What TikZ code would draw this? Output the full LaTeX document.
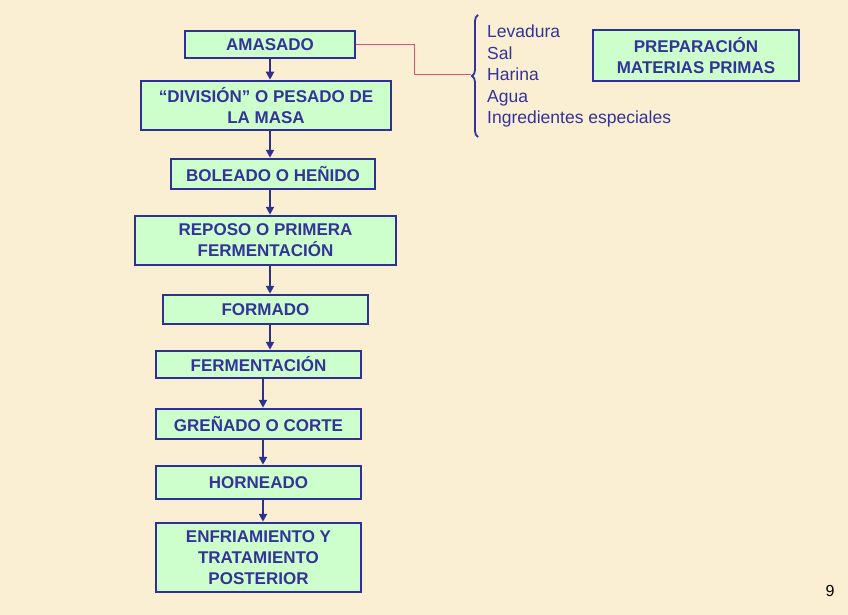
\documentclass[tikz,border=0pt]{standalone}
\usepackage{fontspec}
\setmainfont{Liberation Sans}
\usetikzlibrary{arrows.meta,decorations.pathreplacing}

\definecolor{bgcream}{HTML}{FAEFD3}
\definecolor{boxgreen}{HTML}{CCFFCC}
\definecolor{boxblue}{HTML}{2E3192}
\definecolor{txtblue}{HTML}{333399}
\definecolor{linkpink}{HTML}{E0507A}

\tikzset{
    stepbox/.style={draw=boxblue, line width=2.5pt, fill=boxgreen, text=txtblue,
        font=\fontsize{17}{21}\selectfont\bfseries, align=center, inner sep=0pt},
    flow/.style={draw=boxblue, line width=2.5pt, -{Triangle[length=8pt,width=8pt]}},
    link/.style={draw=linkpink, line width=1pt},
    listtext/.style={text=txtblue, font=\fontsize{17.5}{21.5}\selectfont, align=left, inner sep=0pt},
}

\begin{document}
\begin{tikzpicture}[x=1pt,y=-1pt]

    % background
    \fill[bgcream] (0,0) rectangle (848,615);
    \useasboundingbox (0,0) rectangle (848,615);

    % columns of the arrows
    \coordinate (colA) at (270,0);
    \coordinate (colB) at (263,0);

    % steps
    \node[stepbox, minimum width=170, minimum height=27] (amasado) at (270,44.5) {AMASADO};
    \node[stepbox, minimum width=250, minimum height=49] (division) at (266,105.5) {``DIVISIÓN'' O PESADO DE\\LA MASA};
    \node[stepbox, minimum width=204, minimum height=30] (boleado) at (273,174) {BOLEADO O HEÑIDO};
    \node[stepbox, minimum width=261, minimum height=49] (reposo) at (265.5,240.5) {REPOSO O PRIMERA\\FERMENTACIÓN};
    \node[stepbox, minimum width=205, minimum height=29] (formado) at (265.5,309.5) {FORMADO};
    \node[stepbox, minimum width=205, minimum height=27] (fermentacion) at (258.5,364.5) {FERMENTACIÓN};
    \node[stepbox, minimum width=205, minimum height=30] (grenado) at (258.5,424) {GREÑADO O CORTE};
    \node[stepbox, minimum width=205, minimum height=33] (horneado) at (258.5,482.5) {HORNEADO};
    \node[stepbox, minimum width=205, minimum height=69] (enfriamiento) at (258.5,557.5) {ENFRIAMIENTO Y\\TRATAMIENTO\\POSTERIOR};

    % title box
    \node[stepbox, minimum width=206, minimum height=51] (preparacion) at (696,55.5) {PREPARACIÓN\\MATERIAS PRIMAS};

    % arrows
    \draw[flow] (amasado.south -| colA) -- (division.north -| colA);
    \draw[flow] (division.south -| colA) -- (boleado.north -| colA);
    \draw[flow] (boleado.south -| colA) -- (reposo.north -| colA);
    \draw[flow] (reposo.south -| colA) -- (formado.north -| colA);
    \draw[flow] (formado.south -| colA) -- (fermentacion.north -| colA);
    \draw[flow] (fermentacion.south -| colB) -- (grenado.north -| colB);
    \draw[flow] (grenado.south -| colB) -- (horneado.north -| colB);
    \draw[flow] (horneado.south -| colB) -- (enfriamiento.north -| colB);

    % ingredients
    \node[listtext, anchor=north west] (ingredientes) at (487,25) {Levadura\\Sal\\Harina\\Agua\\Ingredientes especiales};
    \draw[draw=txtblue, line width=1.8pt, decorate, decoration={brace, amplitude=6pt}] (478,137) -- (478,15);
    \coordinate (bracetip) at (471,75);
    \draw[link] (amasado.east) -- ++(58,0) |- (bracetip);

    % page number
    \node[font=\fontsize{16}{18}\selectfont, anchor=base] (pagina) at (830,596) {9};

\end{tikzpicture}
\end{document}
